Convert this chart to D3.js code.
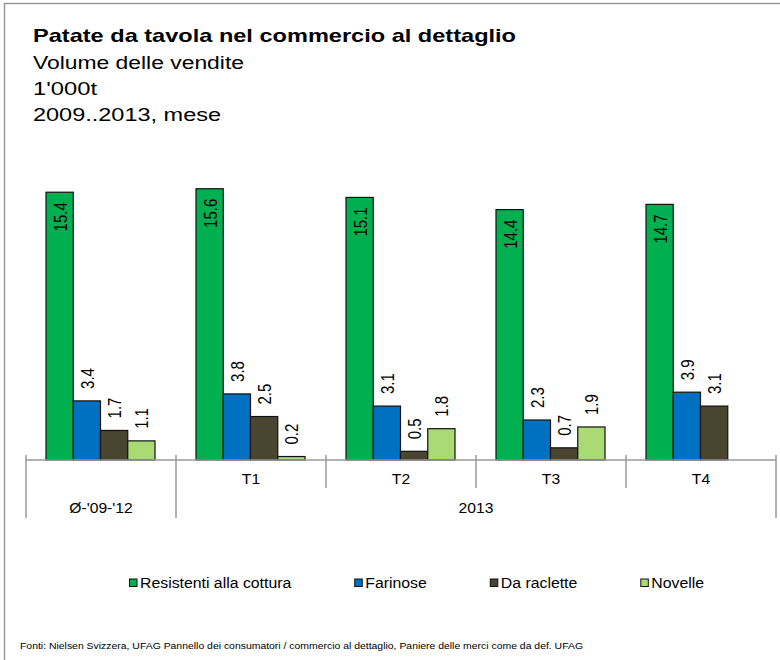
<!DOCTYPE html>
<html>
<head>
<meta charset="utf-8">
<script src="https://cdn.jsdelivr.net/npm/d3@7"></script>
<style>
  body { margin: 0; background: #fff; }
  text { font-family: "Liberation Sans", Arial, sans-serif; fill: #000; }
</style>
</head>
<body>
<div class="canvas"></div>
<script>
// data
const groups = ['Ø-\'09-\'12', 'T1', 'T2', 'T3', 'T4']
const quarters = ['', 'T1', 'T2', 'T3', 'T4']
const periods = ['Ø-\'09-\'12', '2013']
const series = ['Resistenti alla cottura', 'Farinose', 'Da raclette', 'Novelle']
const resistenti = [15.4, 15.6, 15.1, 14.4, 14.7]
const farinose = [3.4, 3.8, 3.1, 2.3, 3.9]
const raclette = [1.7, 2.5, 0.5, 0.7, 3.1]
const novelle = [1.1, 0.2, 1.8, 1.9, null]
const colours = ['#00B050', '#0070C0', '#4A4530', '#A9DA74']

const titleLines = ['Volume delle vendite', '1\'000t', '2009..2013, mese']
const source = 'Fonti: Nielsen Svizzera, UFAG Pannello dei consumatori / commercio al dettaglio, Paniere delle merci come da def. UFAG'

const dims = { width: 780, height: 660 }
const plot = { left: 26, right: 776, base: 460, top: 147 }
const stretch = 1.2   // the reference text is a bit wide

const svg = d3.select('.canvas')
    .append('svg')
    .attr('width', dims.width)
    .attr('height', dims.height)

// frame (top + left only)
svg.append('path')
    .attr('d', `M4.5,${dims.height} V3.5 H${dims.width}`)
    .attr('fill', 'none')
    .attr('stroke', '#9a9a9a')
    .attr('stroke-width', 1.5)

// titles
svg.append('text')
    .attr('x', 33).attr('y', 42)
    .attr('font-size', 19).attr('font-weight', 'bold')
    .attr('textLength', 483).attr('lengthAdjust', 'spacingAndGlyphs')
    .text('Patate da tavola nel commercio al dettaglio')

const subWidths = [211, 64, 188]
svg.selectAll('.sub')
    .data(titleLines)
    .enter()
    .append('text')
        .attr('class', 'sub')
        .attr('x', 33)
        .attr('y', (d, i) => 69 + i * 26)
        .attr('font-size', 18)
        .attr('textLength', (d, i) => subWidths[i])
        .attr('lengthAdjust', 'spacingAndGlyphs')
        .text(d => d)

// scales
const x0 = d3.scaleBand()
    .domain(groups.map((d, i) => i))
    .range([plot.left, plot.right])

const x1 = d3.scaleBand()
    .domain(series)
    .range([20, 129])

const y = d3.scaleLinear()
    .domain([0, 18])
    .range([plot.base, plot.top])

const colour = d3.scaleOrdinal()
    .domain(series)
    .range(colours)

const values = [resistenti, farinose, raclette, novelle]
const bars = []
groups.forEach((g, gi) => {
    series.forEach((s, si) => {
        const v = values[si][gi]
        if (v != null) bars.push({ g: gi, s, v })
    })
})

const graph = svg.append('g')

graph.selectAll('rect')
    .data(bars)
    .enter()
    .append('rect')
        .attr('x', d => x0(d.g) + x1(d.s))
        .attr('y', d => y(d.v))
        .attr('width', x1.bandwidth())
        .attr('height', d => y(0) - y(d.v))
        .attr('fill', d => colour(d.s))
        .attr('stroke', '#111')
        .attr('stroke-width', 1.2)

// value labels, rotated; big bars get the label inside
graph.selectAll('.val')
    .data(bars)
    .enter()
    .append('text')
        .attr('class', 'val')
        .attr('font-size', 15)
        .attr('dominant-baseline', 'central')
        .attr('text-anchor', d => d.v > 10 ? 'end' : 'start')
        .attr('transform', d => {
            const cx = x0(d.g) + x1(d.s) + x1.bandwidth() / 2 + 1
            const ty = d.v > 10 ? y(d.v) + 10 : y(d.v) - 12
            return `translate(${cx},${ty}) scale(${stretch},1) rotate(-90)`
        })
        .text(d => d3.format('.1f')(d.v))

// category axis
const axis = svg.append('g').attr('stroke', '#9a9a9a').attr('stroke-width', 1.5)

axis.append('line')
    .attr('x1', plot.left).attr('x2', plot.right)
    .attr('y1', plot.base).attr('y2', plot.base)

const ticks = d3.range(groups.length + 1)
axis.selectAll('.tick')
    .data(ticks)
    .enter()
    .append('line')
        .attr('x1', d => plot.left + d * x0.step())
        .attr('x2', d => plot.left + d * x0.step())
        .attr('y1', plot.base - 5)
        .attr('y2', d => (d <= 1 || d == groups.length) ? plot.base + 58 : plot.base + 28)

const catText = (sel) => sel
    .attr('font-size', 14.5)
    .attr('text-anchor', 'middle')

svg.selectAll('.quarter')
    .data(quarters.filter(d => d))
    .enter()
    .append('text')
        .attr('class', 'quarter')
        .call(catText)
        .attr('transform', d => `translate(${x0(quarters.indexOf(d)) + x0.bandwidth() / 2},${plot.base + 24}) scale(1.08,1)`)
        .text(d => d)

svg.selectAll('.period')
    .data(periods)
    .enter()
    .append('text')
        .attr('class', 'period')
        .call(catText)
        .attr('transform', (d, i) => {
            const cx = i == 0
                ? x0(0) + x0.bandwidth() / 2
                : (x0(1) + plot.right) / 2
            return `translate(${cx},${plot.base + 53}) scale(1.08,1)`
        })
        .text(d => d)

// legend
const legendGroup = svg.append('g')
let lx = 129
series.forEach((s, i) => {
    const item = legendGroup.append('g').attr('transform', `translate(${lx},583)`)
    item.append('rect')
        .attr('x', 0.5).attr('y', -4)
        .attr('width', 7.5).attr('height', 7.5)
        .attr('fill', colour(s))
        .attr('stroke', '#111')
        .attr('stroke-width', 1)
    const t = item.append('text')
        .attr('x', 11)
        .attr('dy', '0.35em')
        .attr('font-size', 14)
        .text(s)
    const w = t.node().getComputedTextLength() * 1.13
    t.attr('textLength', w).attr('lengthAdjust', 'spacingAndGlyphs')
    lx += 11 + w + 63
})

// source
svg.append('text')
    .attr('x', 20).attr('y', 649)
    .attr('font-size', 9)
    .attr('textLength', 563).attr('lengthAdjust', 'spacingAndGlyphs')
    .text(source)
</script>
</body>
</html>
